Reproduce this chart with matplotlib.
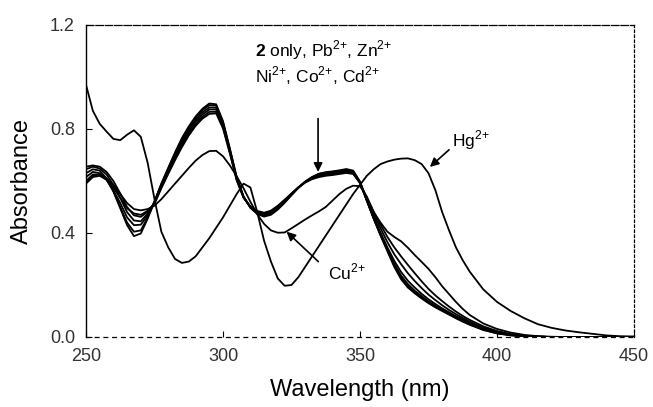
import numpy as np
import matplotlib
matplotlib.use("Agg")
import matplotlib.pyplot as plt

plt.rcParams['font.family'] = ['Liberation Sans', 'DejaVu Sans']
plt.rcParams['mathtext.fontset'] = 'custom'
plt.rcParams['mathtext.rm'] = 'Liberation Sans'
plt.rcParams['mathtext.bf'] = 'Liberation Sans:bold'

############
# wavelength grid: 2.5 nm steps up to 390, then 5 nm
wavelength = list(np.arange(250, 390.1, 2.5)) + list(range(395, 451, 5))

# ligand 2 alone and with the "silent" ions (bundle)
abs_2only = [0.630, 0.645, 0.640, 0.610, 0.560, 0.495, 0.430, 0.388, 0.398, 0.455, 0.520,
             0.590, 0.650, 0.710, 0.765, 0.810, 0.848, 0.878, 0.898, 0.895, 0.830,
             0.725, 0.615, 0.540, 0.497, 0.473, 0.463, 0.470, 0.490, 0.516, 0.545, 0.573, 0.597,
             0.615, 0.628, 0.634, 0.637, 0.641, 0.646, 0.640, 0.598, 0.525, 0.455, 0.390, 0.330,
             0.270, 0.222, 0.190, 0.168, 0.148, 0.130, 0.114, 0.100, 0.086, 0.072, 0.059, 0.047,
             0.027, 0.014, 0.006, 0.002, 0, 0, 0, 0, 0, 0, 0, 0]
abs_pb = [0.615, 0.635, 0.630, 0.605, 0.560, 0.500, 0.440, 0.405, 0.410, 0.460, 0.522,
          0.588, 0.648, 0.706, 0.760, 0.805, 0.843, 0.872, 0.892, 0.890, 0.826,
          0.722, 0.613, 0.540, 0.498, 0.475, 0.466, 0.474, 0.494, 0.520, 0.548, 0.575, 0.598,
          0.615, 0.627, 0.632, 0.635, 0.639, 0.643, 0.637, 0.596, 0.524, 0.455, 0.392, 0.333,
          0.275, 0.228, 0.196, 0.172, 0.151, 0.133, 0.117, 0.102, 0.088, 0.074, 0.061, 0.049,
          0.028, 0.014, 0.007, 0.003, 0.001, 0, 0, 0, 0, 0, 0, 0]
abs_zn = [0.600, 0.625, 0.625, 0.605, 0.565, 0.515, 0.460, 0.430, 0.432, 0.468, 0.520,
          0.585, 0.643, 0.700, 0.752, 0.797, 0.835, 0.864, 0.883, 0.882, 0.820,
          0.718, 0.610, 0.538, 0.498, 0.477, 0.469, 0.477, 0.497, 0.522, 0.549, 0.575, 0.597,
          0.613, 0.624, 0.629, 0.632, 0.636, 0.640, 0.634, 0.594, 0.524, 0.457, 0.395, 0.337,
          0.282, 0.236, 0.203, 0.178, 0.157, 0.137, 0.120, 0.105, 0.091, 0.077, 0.064, 0.051,
          0.030, 0.016, 0.008, 0.003, 0.001, 0, 0, 0, 0, 0, 0, 0]
abs_ni = [0.645, 0.655, 0.648, 0.625, 0.585, 0.535, 0.480, 0.448, 0.445, 0.475, 0.518,
          0.580, 0.638, 0.693, 0.745, 0.790, 0.827, 0.856, 0.875, 0.875, 0.815,
          0.714, 0.608, 0.538, 0.500, 0.480, 0.472, 0.480, 0.500, 0.524, 0.550, 0.575, 0.596,
          0.611, 0.621, 0.626, 0.629, 0.633, 0.637, 0.632, 0.593, 0.526, 0.462, 0.402, 0.345,
          0.293, 0.250, 0.216, 0.190, 0.166, 0.145, 0.127, 0.110, 0.095, 0.080, 0.067, 0.054,
          0.033, 0.018, 0.009, 0.004, 0.001, 0, 0, 0, 0, 0, 0, 0]
abs_co = [0.655, 0.660, 0.655, 0.635, 0.600, 0.552, 0.500, 0.468, 0.462, 0.482, 0.515,
          0.576, 0.632, 0.686, 0.737, 0.782, 0.818, 0.847, 0.866, 0.866, 0.808,
          0.710, 0.605, 0.537, 0.501, 0.482, 0.475, 0.483, 0.502, 0.526, 0.551, 0.575, 0.595,
          0.609, 0.618, 0.623, 0.626, 0.630, 0.634, 0.629, 0.592, 0.530, 0.472, 0.418, 0.365,
          0.318, 0.280, 0.245, 0.215, 0.188, 0.163, 0.142, 0.122, 0.104, 0.088, 0.073, 0.059,
          0.036, 0.020, 0.010, 0.004, 0.001, 0, 0, 0, 0, 0, 0, 0]
abs_cd = [0.590, 0.615, 0.620, 0.605, 0.575, 0.535, 0.495, 0.475, 0.470, 0.485, 0.512,
          0.572, 0.627, 0.680, 0.730, 0.775, 0.812, 0.840, 0.858, 0.860, 0.802,
          0.706, 0.602, 0.535, 0.502, 0.485, 0.478, 0.486, 0.505, 0.528, 0.552, 0.575, 0.594,
          0.607, 0.615, 0.620, 0.623, 0.627, 0.631, 0.627, 0.593, 0.535, 0.482, 0.432, 0.385,
          0.345, 0.310, 0.277, 0.245, 0.214, 0.185, 0.160, 0.138, 0.117, 0.098, 0.081, 0.066,
          0.041, 0.023, 0.011, 0.005, 0.002, 0, 0, 0, 0, 0, 0, 0]
# responsive ions
abs_cu = [0.595, 0.620, 0.625, 0.610, 0.585, 0.550, 0.515, 0.492, 0.487, 0.492, 0.505,
          0.530, 0.560, 0.590, 0.620, 0.650, 0.678, 0.700, 0.715, 0.716, 0.695,
          0.660, 0.618, 0.572, 0.520, 0.472, 0.435, 0.410, 0.401, 0.402, 0.418, 0.435, 0.452,
          0.468, 0.483, 0.500, 0.525, 0.550, 0.570, 0.582, 0.580, 0.540, 0.480, 0.440, 0.405,
          0.385, 0.368, 0.343, 0.315, 0.289, 0.262, 0.230, 0.195, 0.165, 0.135, 0.108, 0.085,
          0.052, 0.031, 0.017, 0.008, 0.003, 0.001, 0, 0, 0, 0, 0, 0]
abs_hg = [0.970, 0.870, 0.820, 0.790, 0.762, 0.757, 0.778, 0.795, 0.770, 0.670, 0.530,
          0.405, 0.345, 0.300, 0.285, 0.290, 0.310, 0.345, 0.380, 0.420, 0.460,
          0.505, 0.550, 0.590, 0.575, 0.480, 0.370, 0.290, 0.225, 0.197, 0.200, 0.230, 0.270,
          0.310, 0.350, 0.390, 0.430, 0.470, 0.510, 0.550, 0.585, 0.620, 0.645, 0.665, 0.675,
          0.682, 0.686, 0.687, 0.680, 0.665, 0.630, 0.565, 0.480, 0.410, 0.345, 0.295, 0.252,
          0.183, 0.135, 0.100, 0.072, 0.049, 0.035, 0.025, 0.018, 0.012, 0.006, 0.003, 0.002]

series = [abs_2only, abs_pb, abs_zn, abs_ni, abs_co, abs_cd, abs_cu, abs_hg]

xticks = [250, 300, 350, 400, 450]
yticks = [0.0, 0.4, 0.8, 1.2]

fig = plt.figure(figsize=(6.53, 4.07), dpi=100)
ax = fig.add_axes([0.1317, 0.172, 0.8392, 0.7666])

for s in series:
    ax.plot(wavelength, s, color='black', lw=1.3)

ax.set_xlim(250, 450)
ax.set_ylim(0, 1.2)
ax.set_xticks(xticks)
ax.set_yticks(yticks)
ax.set_yticklabels([f"{v:.1f}" for v in yticks])
ax.tick_params(direction='in', length=4, width=0.8, labelsize=13,
               labelcolor='#333333', pad=8)

ax.set_xlabel("Wavelength (nm)", fontsize=17, labelpad=10)
ax.set_ylabel("Absorbance", fontsize=17, labelpad=12)

# scanned-looking frame
ax.spines['left'].set_linewidth(1.0)
ax.spines['top'].set_linestyle((0, (6, 1.5)))
ax.spines['right'].set_linestyle((0, (2, 2)))
ax.spines['bottom'].set_linestyle((0, (3, 4)))
for sp in ['top', 'right', 'bottom']:
    ax.spines[sp].set_linewidth(0.9)

# annotations
fs = 12.5
ax.text(311.7, 1.104, r"$\mathbf{2}$ only, Pb$^{2{+}}$, Zn$^{2{+}}$", fontsize=fs,
        ha='left', va='center')
ax.text(311.7, 1.004, r"Ni$^{2{+}}$, Co$^{2{+}}$, Cd$^{2{+}}$", fontsize=fs,
        ha='left', va='center')
arrow = dict(arrowstyle='-|>', color='black', lw=1.2, mutation_scale=13,
             shrinkA=0, shrinkB=0)
ax.annotate("", xy=(334.7, 0.635), xytext=(334.7, 0.84), arrowprops=arrow)
ax.annotate("", xy=(375.5, 0.654), xytext=(382.5, 0.72), arrowprops=arrow)
ax.text(383.6, 0.758, r"Hg$^{2{+}}$", fontsize=fs, ha='left', va='center')
ax.annotate("", xy=(323.2, 0.405), xytext=(334.8, 0.29), arrowprops=arrow)
ax.text(338.3, 0.25, r"Cu$^{2{+}}$", fontsize=fs, ha='left', va='center')

fig.savefig("out.png", dpi=100)
